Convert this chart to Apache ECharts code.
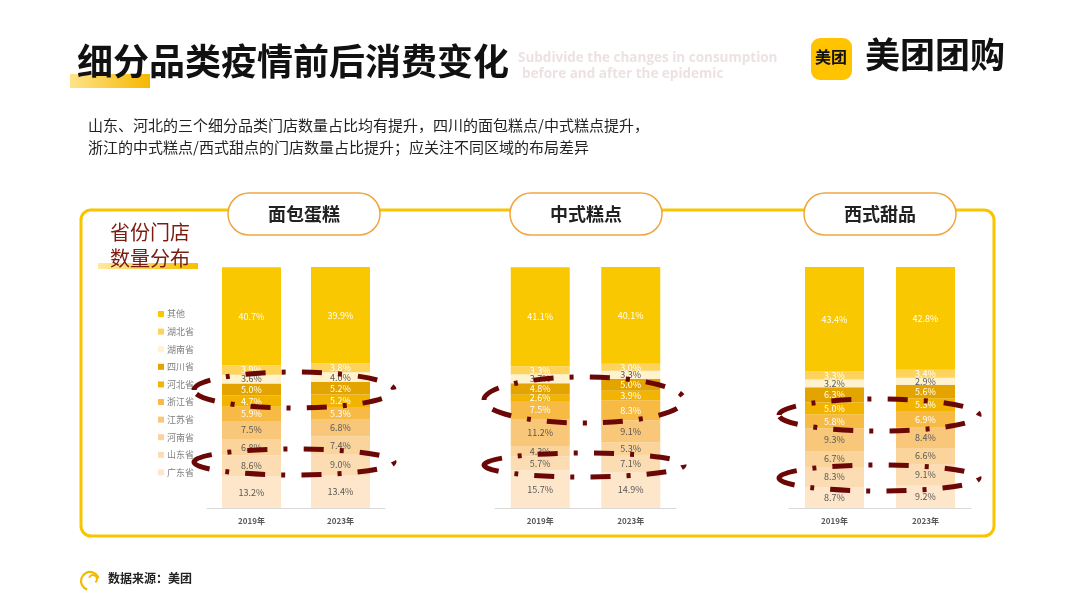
<!DOCTYPE html>
<html>
<head>
<meta charset="utf-8">
<script src="https://cdn.jsdelivr.net/npm/echarts@6/dist/echarts.min.js"></script>
<style>
html,body{margin:0;padding:0;background:#fff;}
#c{width:1080px;height:608px;}
</style>
</head>
<body>
<div id="c"></div>
<script>
// ---- data ----
const years = ['2019年', '2023年'];
// stacking order: bottom -> top
const provinces = ['广东省', '山东省', '河南省', '江苏省', '浙江省', '河北省', '四川省', '湖南省', '湖北省', '其他'];
const legendOrder = ['其他', '湖北省', '湖南省', '四川省', '河北省', '浙江省', '江苏省', '河南省', '山东省', '广东省'];
const groupTitles = ['面包蛋糕', '中式糕点', '西式甜品'];
const bread2019   = [13.2, 8.6, 6.8, 7.5, 5.9, 4.7, 5.0, 3.6, 3.9, 40.7];
const bread2023   = [13.4, 9.0, 7.4, 6.8, 5.3, 5.2, 5.2, 4.0, 3.8, 39.9];
const chinese2019 = [15.7, 5.7, 4.3, 11.2, 7.5, 2.6, 4.8, 3.7, 3.3, 41.1];
const chinese2023 = [14.9, 7.1, 5.3, 9.1, 8.3, 3.9, 5.0, 3.3, 3.0, 40.1];
const western2019 = [8.7, 8.3, 6.7, 9.3, 5.8, 5.0, 6.3, 3.2, 3.3, 43.4];
const western2023 = [9.2, 9.1, 6.6, 8.4, 6.9, 5.3, 5.6, 2.9, 3.4, 42.8];

// ---- styles ----
const colors = {
  '广东省': '#FDE6CA', '山东省': '#FCDDB3', '河南省': '#FBD49B', '江苏省': '#F8C77A',
  '浙江省': '#F6BA45', '河北省': '#F2B400', '四川省': '#E3A400', '湖南省': '#FFF2CF',
  '湖北省': '#FDD35E', '其他': '#FAC800'
};
const whiteLabel = {'其他': 1, '湖北省': 1, '四川省': 1, '河北省': 1, '浙江省': 1};
const FONT = '"Noto Sans CJK SC", "Noto Sans", sans-serif';

const groups = [[bread2019, bread2023], [chinese2019, chinese2023], [western2019, western2023]];
const grids = [
  {left: 207, width: 178, top: 267, height: 241},
  {left: 495, width: 181, top: 267, height: 241},
  {left: 789, width: 182, top: 267, height: 241}
];

const series = [];
groups.forEach((g, gi) => {
  provinces.forEach((p, pi) => {
    series.push({
      name: p, type: 'bar', stack: 's' + gi,
      xAxisIndex: gi, yAxisIndex: gi,
      barWidth: 59,
      data: [g[0][pi], g[1][pi]],
      itemStyle: {color: colors[p]},
      label: {
        show: true, position: 'inside', fontSize: 9, fontFamily: FONT,
        color: whiteLabel[p] ? '#ffffff' : '#595959',
        formatter: (d) => d.value.toFixed(1) + '%'
      },
      emphasis: {disabled: true}
    });
  });
});

const xAxes = grids.map((g, i) => ({
  type: 'category', gridIndex: i, data: years,
  axisLine: {lineStyle: {color: '#D9D9D9', width: 1}},
  axisTick: {show: false},
  axisLabel: {color: '#595959', fontSize: 8, fontWeight: 'bold', fontFamily: FONT, margin: 9}
}));
const yAxes = grids.map((g, i) => ({
  type: 'value', gridIndex: i, min: 0, max: 100, show: false
}));

// ---- decorations ----
const ellipses = [
  [294, 390, 100, 18], [294, 462, 100, 13],
  [584, 400, 100, 23], [584, 465, 100, 12],
  [879, 415, 100, 16], [879, 478, 100, 13]
];
const pillCenters = [304, 586, 880];

const graphic = [
  // title highlight
  {type: 'rect', shape: {x: 70, y: 74, width: 80, height: 14},
   style: {fill: new echarts.graphic.LinearGradient(0, 0, 1, 0, [{offset: 0, color: '#FFE38A'}, {offset: 1, color: '#F5B800'}])}, z: 1},
  {type: 'text', left: 77, top: 43, z: 2,
   style: {text: '细分品类疫情前后消费变化', fontSize: 36, fontWeight: 'bold', fill: '#111', fontFamily: FONT}},
  {type: 'text', left: 518, top: 51, z: 2,
   style: {text: 'Subdivide the changes in consumption', fontSize: 13.5, fontWeight: 'bold', fill: '#EDE2E2', fontFamily: '"Open Sans", sans-serif'}},
  {type: 'text', left: 522, top: 67, z: 2,
   style: {text: 'before and after the epidemic', fontSize: 13.5, fontWeight: 'bold', fill: '#EDE2E2', fontFamily: '"Open Sans", sans-serif'}},
  // logo
  {type: 'rect', shape: {x: 811, y: 38, width: 41, height: 42, r: 9}, style: {fill: '#FFC300'}},
  {type: 'text', left: 815, top: 49, style: {text: '美团', fontSize: 16, fontWeight: 'bold', fill: '#111', fontFamily: FONT}},
  {type: 'text', left: 865, top: 37, style: {text: '美团团购', fontSize: 35, fontWeight: 'bold', fill: '#111', fontFamily: FONT}},
  // paragraph
  {type: 'text', left: 88, top: 118, style: {text: '山东、河北的三个细分品类门店数量占比均有提升，四川的面包糕点/中式糕点提升，', fontSize: 15, fill: '#222', fontFamily: FONT}},
  {type: 'text', left: 88, top: 140, style: {text: '浙江的中式糕点/西式甜点的门店数量占比提升；应关注不同区域的布局差异', fontSize: 15, fill: '#222', fontFamily: FONT}},
  // panel
  {type: 'rect', shape: {x: 81, y: 210, width: 913, height: 326, r: 10},
   style: {fill: 'none', stroke: '#F9C400', lineWidth: 3}, z: 0},
  // side title
  {type: 'rect', shape: {x: 98, y: 263, width: 100, height: 6},
   style: {fill: new echarts.graphic.LinearGradient(0, 0, 1, 0, [{offset: 0, color: '#FFE9A0'}, {offset: 1, color: '#F7BE00'}])}, z: 1},
  {type: 'text', left: 110, top: 222, z: 2, style: {text: '省份门店', fontSize: 20, fill: '#7A1C10', fontFamily: FONT}},
  {type: 'text', left: 110, top: 248, z: 2, style: {text: '数量分布', fontSize: 20, fill: '#7A1C10', fontFamily: FONT}},
  // footer
  {type: 'arc', shape: {cx: 90, cy: 581, r: 9, startAngle: Math.PI * 0.6, endAngle: Math.PI * 1.9},
   style: {stroke: '#F5B800', lineWidth: 2.2, fill: 'none'}},
  {type: 'arc', shape: {cx: 93, cy: 579, r: 4, startAngle: Math.PI * 1.1, endAngle: Math.PI * 2.3},
   style: {stroke: '#F5B800', lineWidth: 2, fill: 'none'}},
  {type: 'text', left: 108, top: 572, style: {text: '数据来源：美团', fontSize: 12, fontWeight: 'bold', fill: '#222', fontFamily: FONT}}
];
groupTitles.forEach((t, i) => {
  const cx = pillCenters[i];
  graphic.push({type: 'rect', shape: {x: cx - 76, y: 193, width: 152, height: 42, r: 21},
    style: {fill: '#fff', stroke: '#F0A640', lineWidth: 1.5}, z: 3});
  graphic.push({type: 'text', x: cx, y: 214, z: 4,
    style: {text: t, fontSize: 18, fontWeight: 'bold', fill: '#222', fontFamily: FONT, align: 'center', verticalAlign: 'middle'}});
});
ellipses.forEach((e) => {
  graphic.push({type: 'ellipse', shape: {cx: e[0], cy: e[1], rx: e[2], ry: e[3]}, z: 100,
    style: {fill: 'none', stroke: '#6B0707', lineWidth: 5, lineDash: [20, 16, 4, 16]}});
});

const chart = echarts.init(document.getElementById('c'), null, {renderer: 'canvas'});
chart.setOption({
  animation: false,
  backgroundColor: '#fff',
  legend: {
    data: legendOrder, orient: 'vertical', left: 153, top: 304,
    itemWidth: 6, itemHeight: 6, itemGap: 7.6, icon: 'rect',
    selectedMode: false,
    textStyle: {fontSize: 9, color: '#7F7F7F', fontFamily: FONT, lineHeight: 10, padding: [0, 0, 0, -2]}
  },
  grid: grids,
  xAxis: xAxes,
  yAxis: yAxes,
  series: series,
  graphic: graphic
});
</script>
</body>
</html>
